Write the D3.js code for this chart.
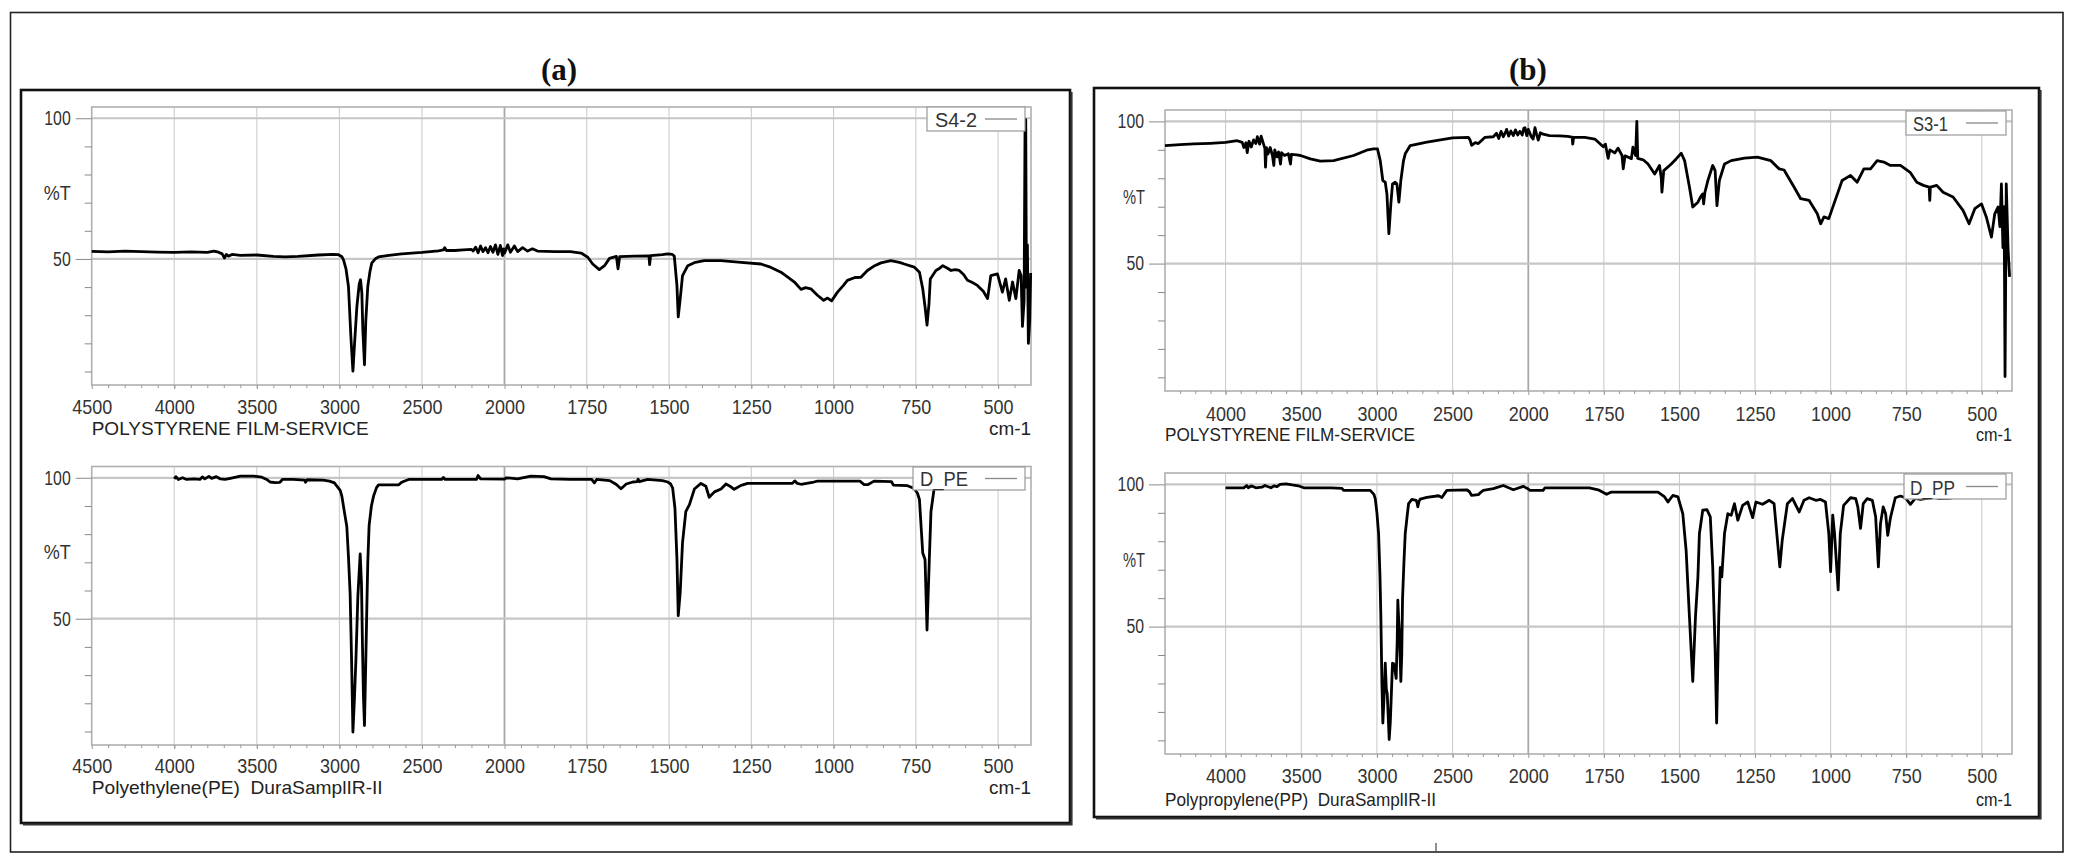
<!DOCTYPE html>
<html>
<head>
<meta charset="utf-8">
<script src="https://cdnjs.cloudflare.com/ajax/libs/d3/7.8.5/d3.min.js"></script>
<style>
  body { margin: 0; background: #fff; }
  svg { display: block; }
  text { white-space: pre; }
</style>
</head>
<body>
<svg id="my-svg"></svg>
<script>
/*
FTIR spectra, two panels, each with the sample spectrum on top and the library spectrum below
*/

// tick labels
const xTicksA = [4500, 4000, 3500, 3000, 2500, 2000, 1750, 1500, 1250, 1000, 750, 500];
const xTicksB = [4000, 3500, 3000, 2500, 2000, 1750, 1500, 1250, 1000, 750, 500];
const yTickLabels = [100, 50];
const yMinorTicks = [10, 20, 30, 40, 60, 70, 80, 90];

// spectra: [wavenumber cm-1, %T]
const specS42 = [
  [4500,52.7],[4400,52.5],[4300,52.8],[4200,52.6],[4100,52.4],[4000,52.3],[3900,52.5],[3800,52.3],[3760,52.8],
  [3732,52.4],[3710,51.8],[3696,50.3],[3685,51.6],[3672,51.0],[3650,51.6],[3600,51.3],[3500,51.4],[3400,50.9],
  [3328,50.7],[3250,50.9],[3127,51.4],[3040,51.6],[3005,51.5],[2985,50.8],[2975,49.7],[2960,46.5],[2945,40.2],
  [2930,22],[2918,10.1],[2908,20],[2894,33.1],[2880,41],[2872,42.6],[2864,38],[2858,25],[2848,12.4],[2840,28],
  [2828,40.2],[2815,45.5],[2804,48.5],[2780,50.2],[2763,50.7],[2700,51.3],[2622,51.8],[2500,52.3],[2400,52.9],
  [2370,53.2],[2362,54.0],[2352,53.0],[2300,53.0],[2250,53.2],[2200,53.4],[2190,52.8],[2175,54.2],[2160,52.2],
  [2145,54.6],[2130,52.6],[2115,54.0],[2100,52.2],[2085,54.4],[2070,52.4],[2055,55.0],[2040,51.6],[2025,54.8],
  [2012,51.2],[2005,53.6],[2000,52.0],[1990,55.0],[1982,52.4],[1970,54.6],[1960,52.6],[1945,54.0],[1930,52.8],
  [1915,53.6],[1900,52.8],[1848,52.6],[1800,52.6],[1767,52.1],[1747,50.6],[1732,48.2],[1712,46.2],[1696,47.6],
  [1681,50.2],[1660,50.9],[1655,46.5],[1650,50.8],[1605,51.0],[1561,51.1],[1559,48.0],[1556,51.2],[1520,51.5],
  [1504,51.8],[1490,51.6],[1484,51.0],[1476,40.6],[1472,29.4],[1466,35.9],[1459,44.1],[1443,47.6],[1420,48.8],
  [1393,49.4],[1342,49.4],[1281,48.8],[1221,48.2],[1190,47.0],[1160,45.3],[1135,43.2],[1119,41.8],[1099,39.2],
  [1085,39.8],[1069,39.4],[1049,37.1],[1030,35.3],[1018,36.1],[1006,35.1],[988,38.2],[970,40.6],[958,42.4],
  [935,43.4],[917,43.5],[897,45.9],[875,47.6],[856,48.6],[826,49.4],[800,48.8],[785,48.2],[755,47.1],[739,45.3],
  [729,39.4],[722,33.0],[716,26.5],[710,34.0],[706,42.9],[689,45.9],[680,46.5],[668,47.6],[655,46.8],[643,45.9],
  [630,46.2],[618,45.9],[605,44.5],[593,42.4],[578,41.6],[563,40.6],[545,38.5],[532,35.9],[522,44.1],[502,44.7],
  [487,38.2],[477,42.9],[466,35.3],[456,41.8],[446,35.9],[436,45.9],[430,44.0],[426,26.0],[421,35.0],[418,99.5],
  [416,99.5],[414,40.0],[411,55.0],[408,20.0],[404,28.0],[401,45.0]
];

const specDPE = [
  [4000,99.6],[3990,100.4],[3975,99.4],[3950,100.0],[3925,99.4],[3880,99.6],[3845,99.4],[3830,100.3],[3815,99.6],
  [3790,100.5],[3773,99.8],[3745,100.4],[3720,99.6],[3693,99.4],[3660,99.8],[3600,100.6],[3520,100.6],[3470,100.2],
  [3440,99.4],[3420,98.5],[3390,98.3],[3360,98.4],[3345,99.4],[3280,99.4],[3210,99.2],[3205,98.4],[3195,99.3],
  [3100,99.2],[3060,98.8],[3030,98.2],[3015,97.0],[2995,95.5],[2985,93.5],[2970,88.0],[2955,82.7],[2945,72.0],
  [2935,59.0],[2926,35.0],[2918,9.8],[2910,20.0],[2900,35.2],[2888,58.0],[2874,73.0],[2866,62.0],[2860,40.0],
  [2854,22.0],[2848,12.1],[2840,35.0],[2834,53.2],[2828,70.0],[2820,83.0],[2806,90.0],[2793,93.5],[2775,96.5],
  [2763,97.5],[2640,97.5],[2625,98.3],[2612,98.7],[2580,99.4],[2500,99.4],[2380,99.4],[2370,100.1],[2360,99.4],
  [2170,99.4],[2160,100.8],[2145,99.6],[2000,99.5],[1995,100.0],[1960,99.6],[1920,100.6],[1880,100.4],[1859,99.6],
  [1800,99.4],[1735,99.4],[1727,98.2],[1720,99.4],[1680,99.0],[1660,97.6],[1646,96.1],[1630,97.8],[1610,98.5],
  [1597,98.6],[1594,99.5],[1590,98.6],[1565,99.4],[1520,99.0],[1504,98.5],[1495,97.8],[1489,96.3],[1482,89.2],
  [1476,71.3],[1472,51.1],[1466,59.4],[1459,77.0],[1449,88.0],[1438,90.5],[1423,96.0],[1403,98.0],[1388,97.0],
  [1378,93.1],[1362,95.0],[1342,96.0],[1327,97.8],[1312,96.8],[1302,95.9],[1281,97.3],[1261,98.0],[1125,98.0],
  [1118,98.9],[1110,98.0],[1099,97.7],[1060,98.5],[1049,98.8],[920,98.8],[907,97.6],[895,97.6],[877,98.8],
  [824,98.6],[818,97.4],[775,97.2],[755,96.2],[745,94.5],[739,92.3],[729,73.3],[722,71.0],[716,46.0],[709,71.0],
  [704,88.0],[694,96.5],[685,97.5],[660,97.6]
];

const specS31 = [
  [4400,91.5],[4300,91.8],[4209,92.1],[4100,92.3],[4000,92.6],[3923,93.2],[3890,92.6],[3879,90.8],[3865,92.5],
  [3857,89.0],[3845,93.0],[3830,91.0],[3815,93.5],[3800,92.2],[3790,94.6],[3775,92.0],[3765,94.8],[3752,92.5],
  [3740,90.5],[3736,83.9],[3730,90.8],[3720,88.5],[3705,90.8],[3690,88.0],[3681,84.5],[3675,90.0],[3660,87.5],
  [3650,89.3],[3637,85.0],[3630,89.0],[3610,88.0],[3585,88.6],[3571,85.0],[3565,88.4],[3530,88.2],[3505,88.0],
  [3440,86.8],[3374,86.0],[3286,86.2],[3154,88.0],[3060,90.0],[3022,90.3],[2996,90.3],[2978,86.2],[2961,79.2],
  [2945,78.6],[2934,74.5],[2921,60.5],[2908,71.0],[2897,78.0],[2879,78.6],[2868,78.0],[2855,71.6],[2842,79.2],
  [2825,86.0],[2813,88.6],[2780,91.5],[2670,92.7],[2500,94.2],[2396,94.4],[2385,93.5],[2374,91.6],[2350,92.5],
  [2330,92.2],[2286,94.4],[2231,94.6],[2210,95.8],[2195,94.0],[2180,96.5],[2165,94.6],[2150,96.2],[2143,97.2],
  [2130,94.8],[2115,96.6],[2099,95.0],[2085,97.0],[2070,95.2],[2055,96.5],[2040,95.2],[2030,97.5],[2022,97.8],
  [2010,95.0],[2000,97.2],[1990,94.6],[1984,93.8],[1978,97.8],[1972,95.2],[1967,93.4],[1960,96.0],[1951,95.5],
  [1930,95.0],[1896,94.9],[1870,94.7],[1855,94.5],[1853,92.0],[1850,94.4],[1813,94.4],[1780,93.8],[1752,91.1],
  [1745,92.0],[1736,87.0],[1730,90.0],[1714,88.9],[1703,90.6],[1690,88.0],[1686,83.3],[1680,87.9],[1659,86.9],
  [1654,90.9],[1645,88.0],[1641,100.0],[1638,87.0],[1620,86.5],[1604,85.0],[1582,81.5],[1566,84.5],[1560,80.0],
  [1558,75.1],[1552,82.7],[1527,85.0],[1511,86.8],[1494,88.8],[1483,86.2],[1467,76.9],[1456,69.9],[1439,71.6],
  [1430,73.5],[1423,74.5],[1420,71.0],[1416,75.0],[1406,79.2],[1390,84.5],[1382,82.7],[1376,70.4],[1368,79.2],
  [1351,85.0],[1329,86.2],[1285,87.1],[1242,87.4],[1198,86.2],[1170,83.3],[1154,82.9],[1121,76.9],[1099,72.8],
  [1071,72.2],[1044,67.5],[1033,64.0],[1022,66.4],[1006,65.8],[989,71.0],[962,79.2],[934,81.0],[912,78.6],
  [890,83.3],[868,83.3],[846,86.2],[824,85.7],[802,84.5],[769,84.5],[737,82.1],[715,78.6],[693,77.5],[674,76.9],
  [672,72.2],[670,76.9],[649,77.5],[628,75.1],[595,73.4],[562,68.7],[542,64.0],[523,69.3],[501,71.0],[485,66.4],
  [468,59.3],[457,67.5],[446,69.9],[440,63.0],[435,78.0],[430,55.6],[426,70.0],[423,10.3],[419,78.0],[413,55.0],
  [408,45.3]
];

const specDPP = [
  [4000,98.8],[3950,98.8],[3880,98.8],[3860,99.6],[3850,98.8],[3830,99.5],[3800,98.8],[3760,99.0],[3740,99.6],
  [3700,98.8],[3680,99.5],[3660,99.2],[3640,100.0],[3600,100.2],[3560,99.8],[3520,99.5],[3483,98.8],[3400,98.8],
  [3300,98.8],[3231,98.6],[3220,97.9],[3100,97.9],[3044,97.9],[3020,96.5],[3011,95.0],[3000,90.0],[2989,82.7],
  [2980,68.0],[2974,53.5],[2967,30.0],[2961,16.1],[2953,25.0],[2945,37.1],[2938,28.0],[2932,26.5],[2925,18.0],
  [2919,10.3],[2912,16.0],[2906,24.3],[2900,33.0],[2897,37.1],[2890,37.0],[2884,35.9],[2873,31.8],[2866,45.0],
  [2862,59.3],[2856,52.0],[2851,47.6],[2842,30.7],[2836,40.0],[2831,59.3],[2822,72.0],[2813,82.7],[2800,89.0],
  [2791,93.2],[2769,94.7],[2741,94.4],[2735,93.5],[2730,92.1],[2722,94.0],[2714,94.8],[2670,95.4],[2593,96.0],
  [2571,95.4],[2550,97.0],[2538,97.9],[2407,98.1],[2390,97.5],[2374,96.1],[2330,96.4],[2310,97.4],[2297,97.9],
  [2231,98.5],[2165,99.6],[2099,98.1],[2033,99.3],[2000,98.4],[1995,97.9],[1951,97.9],[1945,98.8],[1798,98.8],
  [1769,98.1],[1741,96.5],[1725,97.3],[1571,97.3],[1549,95.6],[1538,93.8],[1522,96.1],[1505,95.6],[1489,89.7],
  [1478,76.9],[1467,53.5],[1456,30.7],[1447,53.5],[1439,67.3],[1434,82.7],[1423,90.9],[1409,91.1],[1398,88.6],
  [1390,71.0],[1382,41.8],[1377,16.1],[1370,53.5],[1365,70.8],[1360,67.5],[1351,82.7],[1340,89.7],[1329,89.1],
  [1318,93.2],[1307,87.4],[1291,92.6],[1274,93.8],[1258,88.3],[1247,93.8],[1225,93.0],[1203,94.4],[1187,93.2],
  [1178,82.7],[1168,71.0],[1160,80.4],[1143,93.2],[1126,95.0],[1104,90.3],[1088,94.4],[1071,95.3],[1049,94.4],
  [1033,94.7],[1017,93.8],[1006,82.7],[1000,69.3],[993,89.2],[987,82.7],[975,62.9],[968,82.7],[957,92.6],
  [934,95.3],[917,95.0],[910,92.1],[901,84.5],[892,93.2],[879,95.0],[862,94.4],[851,88.6],[842,71.0],[835,86.2],
  [826,92.1],[818,89.7],[811,82.1],[802,88.3],[786,95.3],[769,95.9],[753,95.3],[736,93.0],[720,95.1],[703,94.7],
  [681,95.1],[660,95.5],[640,95.0],[600,95.2]
];

const fontSans = "'Liberation Sans', Arial, sans-serif";

let svg = d3.select('#my-svg')
      .attr('width', 2076)
      .attr('height', 865);

svg.append('rect').attr('width', 2076).attr('height', 865).attr('fill', '#fff');

// outer frame + little mark at the bottom
svg.append('rect')
   .attr('x', 10.5).attr('y', 12.5).attr('width', 2052.5).attr('height', 839.5)
   .attr('fill', 'none').attr('stroke', '#222').attr('stroke-width', 1.6);
svg.append('line')
   .attr('x1', 1436).attr('x2', 1436).attr('y1', 843).attr('y2', 851)
   .attr('stroke', '#444').attr('stroke-width', 1.2);

// panel boxes
function panelBox(x, y, w, h){
    svg.append('rect')
       .attr('x', x).attr('y', y).attr('width', w).attr('height', h)
       .attr('fill', 'none').attr('stroke', '#111').attr('stroke-width', 2.6);
    // heavier right / bottom edge
    svg.append('path')
       .attr('d', `M${x + w + 1.5},${y + 2}V${y + h + 1.5}H${x + 2}`)
       .attr('fill', 'none').attr('stroke', '#333').attr('stroke-width', 2.2);
}
panelBox(21, 90, 1049, 733);
panelBox(1094, 88, 945, 729);

svg.append('text').text('(a)')
   .attr('x', 559).attr('y', 80).attr('text-anchor', 'middle')
   .attr('font-family', "'Liberation Serif', 'DejaVu Serif', serif")
   .attr('font-weight', 'bold').attr('font-size', 31).attr('fill', '#111');
svg.append('text').text('(b)')
   .attr('x', 1528).attr('y', 80).attr('text-anchor', 'middle')
   .attr('font-family', "'Liberation Serif', 'DejaVu Serif', serif")
   .attr('font-weight', 'bold').attr('font-size', 31).attr('fill', '#111');


function drawChart(c){
    let g = svg.append('g');
    let x = d3.scaleLinear().domain([c.wStart, 2000, 400]).range([c.x0, c.xm, c.x1]);
    let y = d3.scaleLinear().domain([5.2, 104]).range([c.y1, c.y0]);

    // grid
    g.selectAll('line.vgrid')
        .data(c.ticks.filter(t => t !== c.wStart))
        .enter().append('line')
            .attr('class', 'vgrid')
            .attr('x1', d => x(d)).attr('x2', d => x(d))
            .attr('y1', c.y0).attr('y2', c.y1)
            .attr('stroke', d => d === 2000 ? '#a8a8a8' : '#cdcdcd')
            .attr('stroke-width', d => d === 2000 ? 1.8 : 1.1);

    g.selectAll('line.hgrid')
        .data(yTickLabels)
        .enter().append('line')
            .attr('class', 'hgrid')
            .attr('x1', c.x0).attr('x2', c.x1)
            .attr('y1', d => y(d)).attr('y2', d => y(d))
            .attr('stroke', '#c6c6c6')
            .attr('stroke-width', 2.2);

    g.append('rect')
        .attr('x', c.x0).attr('y', c.y0)
        .attr('width', c.x1 - c.x0).attr('height', c.y1 - c.y0)
        .attr('fill', 'none').attr('stroke', '#b0b0b0').attr('stroke-width', 1.6);

    // y axis
    let yMinorAxis = d3.axisLeft(y).tickValues(yMinorTicks).tickSize(7).tickFormat('');
    g.append('g')
        .attr('transform', `translate(${c.x0},0)`)
        .call(yMinorAxis)
        .call(a => a.select('.domain').remove())
        .selectAll('line').attr('stroke', '#8a8a8a');

    let yAxis = d3.axisLeft(y).tickValues(yTickLabels).tickSize(16).tickPadding(5).tickFormat(d => String(d));
    let ya = g.append('g')
        .attr('transform', `translate(${c.x0},0)`)
        .call(yAxis)
        .call(a => a.select('.domain').remove());
    ya.selectAll('line').attr('stroke', '#8a8a8a');
    ya.selectAll('text')
        .attr('font-family', fontSans).attr('font-size', 20).attr('fill', '#333')
        .attr('textLength', d => String(d).length * 8.8)
        .attr('lengthAdjust', 'spacingAndGlyphs');

    g.append('text').text('%T')
        .attr('x', c.x0 - c.pctOff).attr('y', y(73.5) + 7)
        .attr('font-family', fontSans).attr('font-size', 20).attr('fill', '#333')
        .attr('textLength', c.pctLen).attr('lengthAdjust', 'spacingAndGlyphs');

    // x axis
    let xMinor = d3.range(c.wStart - 100, 2000, -100).concat(d3.range(1950, 400, -50));
    g.append('g')
        .attr('transform', `translate(0,${c.y1})`)
        .call(d3.axisBottom(x).tickValues(xMinor).tickSize(3).tickFormat(''))
        .call(a => a.select('.domain').remove())
        .selectAll('line').attr('stroke', '#999');

    let xa = g.append('g')
        .attr('transform', `translate(0,${c.y1})`)
        .call(d3.axisBottom(x).tickValues(c.ticks).tickSize(4).tickPadding(c.tickPad).tickFormat(d => String(d)))
        .call(a => a.select('.domain').remove());
    xa.selectAll('line').attr('stroke', '#999');
    xa.selectAll('text')
        .attr('font-family', fontSans).attr('font-size', 21).attr('fill', '#333')
        .attr('textLength', d => String(d).length * 10)
        .attr('lengthAdjust', 'spacingAndGlyphs');

    g.append('text').text(c.label)
        .attr('x', c.x0).attr('y', c.y1 + c.labelOff)
        .attr('font-family', fontSans).attr('font-size', 19).attr('fill', '#222')
        .attr('textLength', c.labelLen).attr('lengthAdjust', 'spacingAndGlyphs');

    g.append('text').text('cm-1')
        .attr('x', c.x1).attr('y', c.y1 + c.labelOff)
        .attr('text-anchor', 'end')
        .attr('font-family', fontSans).attr('font-size', 19).attr('fill', '#222')
        .attr('textLength', c.cmLen).attr('lengthAdjust', 'spacingAndGlyphs');

    // spectrum
    let line = d3.line()
        .x(d => x(d[0]))
        .y(d => y(d[1]));

    g.append('path')
        .datum(c.data)
        .attr('d', line)
        .attr('fill', 'none')
        .attr('stroke', '#000')
        .attr('stroke-width', 2.8)
        .attr('stroke-linejoin', 'round');

    // legend
    let lg = c.legend;
    g.append('rect')
        .attr('x', lg.x).attr('y', lg.y).attr('width', lg.w).attr('height', lg.h)
        .attr('fill', '#fff').attr('stroke', '#9a9a9a').attr('stroke-width', 1.2);
    g.append('text').text(c.name)
        .attr('x', lg.x + lg.tx).attr('y', lg.y + lg.h - 4.5)
        .attr('font-family', fontSans).attr('font-size', 20).attr('fill', '#333')
        .attr('textLength', lg.tw).attr('lengthAdjust', 'spacingAndGlyphs');
    g.append('line')
        .attr('x1', lg.x + lg.w - 40).attr('x2', lg.x + lg.w - 8)
        .attr('y1', lg.y + lg.h / 2).attr('y2', lg.y + lg.h / 2)
        .attr('stroke', '#888').attr('stroke-width', 1.3);
}


drawChart({
    name: 'S4-2', data: specS42, ticks: xTicksA, wStart: 4500,
    x0: 91.7, xm: 504.5, x1: 1031, y0: 107, y1: 385,
    label: 'POLYSTYRENE FILM-SERVICE', labelLen: 277, cmLen: 42, labelOff: 50, tickPad: 10,
    pctOff: 48, pctLen: 27,
    legend: {x: 927, y: 107, w: 98, h: 24, tx: 8, tw: 42}
});

drawChart({
    name: 'D_PE', data: specDPE, ticks: xTicksA, wStart: 4500,
    x0: 91.7, xm: 504.5, x1: 1031, y0: 466.5, y1: 745,
    label: 'Polyethylene(PE)  DuraSamplIR-II', labelLen: 291, cmLen: 42, labelOff: 49, tickPad: 9,
    pctOff: 48, pctLen: 27,
    legend: {x: 913, y: 467, w: 112, h: 23, tx: 7, tw: 48}
});

drawChart({
    name: 'S3-1', data: specS31, ticks: xTicksB, wStart: 4400,
    x0: 1165, xm: 1528.3, x1: 2012, y0: 110, y1: 391,
    label: 'POLYSTYRENE FILM-SERVICE', labelLen: 250, cmLen: 36, labelOff: 50, tickPad: 11,
    pctOff: 42, pctLen: 22,
    legend: {x: 1906, y: 111, w: 100, h: 24, tx: 7, tw: 35}
});

drawChart({
    name: 'D_PP', data: specDPP, ticks: xTicksB, wStart: 4400,
    x0: 1165, xm: 1528.3, x1: 2012, y0: 473, y1: 754,
    label: 'Polypropylene(PP)  DuraSamplIR-II', labelLen: 271, cmLen: 36, labelOff: 52, tickPad: 10,
    pctOff: 42, pctLen: 22,
    legend: {x: 1904, y: 474, w: 102, h: 25, tx: 6, tw: 45}
});

</script>
</body>
</html>
